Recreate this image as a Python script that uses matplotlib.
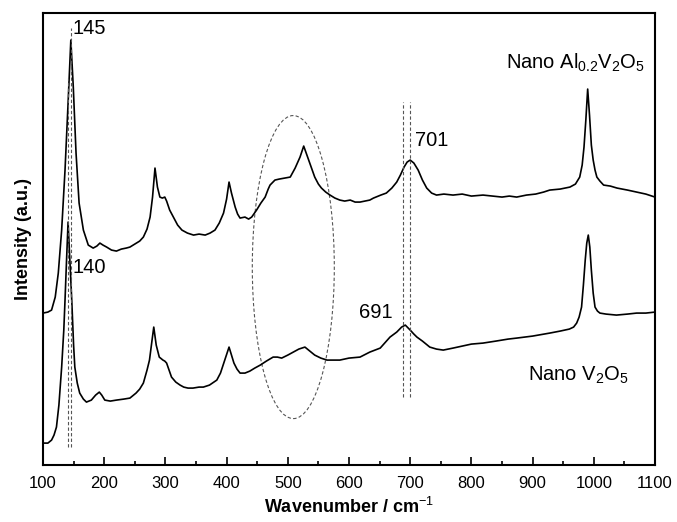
import matplotlib
matplotlib.use('Agg')
import matplotlib.pyplot as plt
from matplotlib.patches import Ellipse
from matplotlib.ticker import MultipleLocator

plt.rcParams['font.family'] = ['Liberation Sans', 'DejaVu Sans']
plt.rcParams['mathtext.fontset'] = 'custom'
plt.rcParams['mathtext.rm'] = 'Liberation Sans'
plt.rcParams['mathtext.it'] = 'Liberation Sans:italic'
plt.rcParams['mathtext.bf'] = 'Liberation Sans:bold'

# Nano Al0.2V2O5 (upper, offset) spectrum
al_x = [100, 108, 114, 120, 125, 130.5, 136, 141, 145.5, 149.5, 154, 159, 166, 174, 182, 188,
        193, 198, 204, 212, 220, 228, 236, 242, 250, 258, 264, 270, 275, 279, 283, 287, 291,
        295, 299, 302, 307, 313, 320, 327, 336, 346, 355, 365, 373, 381, 388, 395, 400, 404,
        408, 414, 418, 422, 430, 436, 441, 449, 456, 463, 468, 471, 479, 486, 495, 504, 512,
        520, 526, 533, 539, 544, 550, 555, 562, 569, 577, 585, 593, 602, 610, 618, 626, 634,
        640, 652, 661, 670, 678, 684, 690, 695, 700, 706, 713, 720, 727, 735, 743, 755, 770,
        785, 800, 819, 835, 850, 862, 874, 890, 905, 918, 928, 945, 961, 970, 977, 981, 984,
        987, 990, 993, 996, 999, 1002, 1005, 1010, 1016, 1027, 1038, 1055, 1070, 1085, 1100]
al_y = [152, 153, 155, 168, 192, 235, 295, 362, 425, 378, 312, 262, 235, 220, 217, 219,
        222, 220, 218, 215, 214, 216, 217, 218, 221, 224, 228, 236, 248, 268, 297, 278, 268,
        267, 268, 264, 255, 248, 240, 235, 232, 230, 231, 230, 232, 235, 242, 252, 266, 283,
        272, 258, 251, 247, 248, 246, 248, 255, 262, 268, 276, 280, 285, 286, 287, 288, 297,
        308, 319, 307, 297, 288, 281, 277, 273, 270, 267, 265, 264, 265, 263, 263, 264, 265,
        267, 270, 272, 277, 283, 290, 298, 303, 305, 302, 295, 285, 277, 272, 270, 271, 270,
        271, 269, 270, 269, 268, 269, 268, 270, 271, 273, 275, 276, 278, 281, 288, 300, 318,
        345, 376, 350, 320, 305, 295, 288, 284, 280, 279, 277, 275, 273, 271, 268]

# Nano V2O5 (lower) spectrum
v_x = [100, 108, 114, 118, 122, 126, 130.5, 134, 136, 138.5, 141, 143.5, 147, 150, 152, 156,
       160, 166, 171, 179, 186, 192, 196, 201, 210, 220, 232, 242, 252, 258, 264, 270, 274,
       278, 281, 285, 290, 296, 299, 302, 306, 310, 317, 324, 330, 337, 345, 355, 362, 372,
       384, 390, 397, 404, 408, 412, 417, 422, 430, 438, 446, 455, 465, 476, 483, 490, 500,
       509, 518, 528, 536, 544, 554, 564, 575, 585, 600, 618, 634, 651, 667, 678, 686, 692,
       700, 706, 711, 720, 732, 743, 754, 770, 785, 800, 819, 840, 860, 874, 900, 928, 945,
       960, 967, 972, 976, 980, 983, 986, 988.5, 991, 993.5, 996, 999, 1002, 1006, 1010,
       1020, 1037, 1055, 1070, 1085, 1100]
v_y = [22, 22, 25, 30, 38, 60, 98, 135, 165, 205, 243, 210, 165, 120, 98, 82,
       72, 66, 63, 65, 70, 73, 70, 65, 64, 65, 66, 67, 72, 76, 82, 95, 105,
       124, 138, 120, 108, 105, 104, 102, 95, 88, 83, 80, 78, 77, 77, 78, 78, 80,
       85, 92, 105, 118, 110, 102, 96, 92, 92, 94, 97, 100, 104, 108, 108, 107, 110,
       113, 116, 118, 114, 110, 107, 105, 105, 105, 107, 108, 113, 117, 128, 133, 138, 140,
       135, 131, 128, 124, 118, 116, 115, 117, 119, 121, 122, 124, 126, 127, 129, 132, 134,
       136, 138, 142, 148, 158, 180, 205, 222, 230, 218, 195, 172, 158, 154, 152,
       151, 150, 151, 152, 152, 153]

x_ticks = [100, 200, 300, 400, 500, 600, 700, 800, 900, 1000, 1100]

# marker lines: (position, bottom, top) in data units
peak_lines = [(140.5, 18, 387), (146.5, 18, 437), (688, 68, 363), (700, 68, 363)]

fig = plt.figure(figsize=(6.77, 5.22), dpi=100)
ax = fig.add_axes([0.0635, 0.109, 0.904, 0.866])

ax.plot(al_x, al_y, color='black', lw=1.2)
ax.plot(v_x, v_y, color='black', lw=1.2)

for pos, lo, hi in peak_lines:
    ax.plot([pos, pos], [lo, hi], color='#555555', lw=0.8, dashes=(3, 2))

ax.add_patch(Ellipse((509, 198), 134, 303, fill=False, edgecolor='#555555',
                     lw=0.8, linestyle=(0, (3, 2))))

ax.text(148, 437, '145', fontsize=14.5, va='center', ha='left')
ax.text(149, 198, '140', fontsize=14.5, va='center', ha='left')
ax.text(708, 325, '701', fontsize=14.5, va='center', ha='left')
ax.text(617, 153, '691', fontsize=14.5, va='center', ha='left')
ax.text(1083, 402, 'Nano Al$_{0.2}$V$_2$O$_5$', fontsize=14.5, va='center', ha='right')
ax.text(1057, 90, 'Nano V$_2$O$_5$', fontsize=14.5, va='center', ha='right')

ax.set_xlim(100, 1100)
ax.set_ylim(0, 452)
ax.set_xticks(x_ticks)
ax.xaxis.set_minor_locator(MultipleLocator(50))
ax.set_yticks([])
ax.tick_params(axis='x', which='major', direction='in', length=6, width=1.2,
               labelsize=12, pad=8)
ax.tick_params(axis='x', which='minor', direction='in', length=3, width=1.2)
for sp in ax.spines.values():
    sp.set_linewidth(1.5)

ax.set_xlabel('Wavenumber / cm$^{-1}$', fontsize=13, fontweight='bold', labelpad=4)
ax.set_ylabel('Intensity (a.u.)', fontsize=13, fontweight='bold', labelpad=8)

fig.savefig('out.png', dpi=100)
